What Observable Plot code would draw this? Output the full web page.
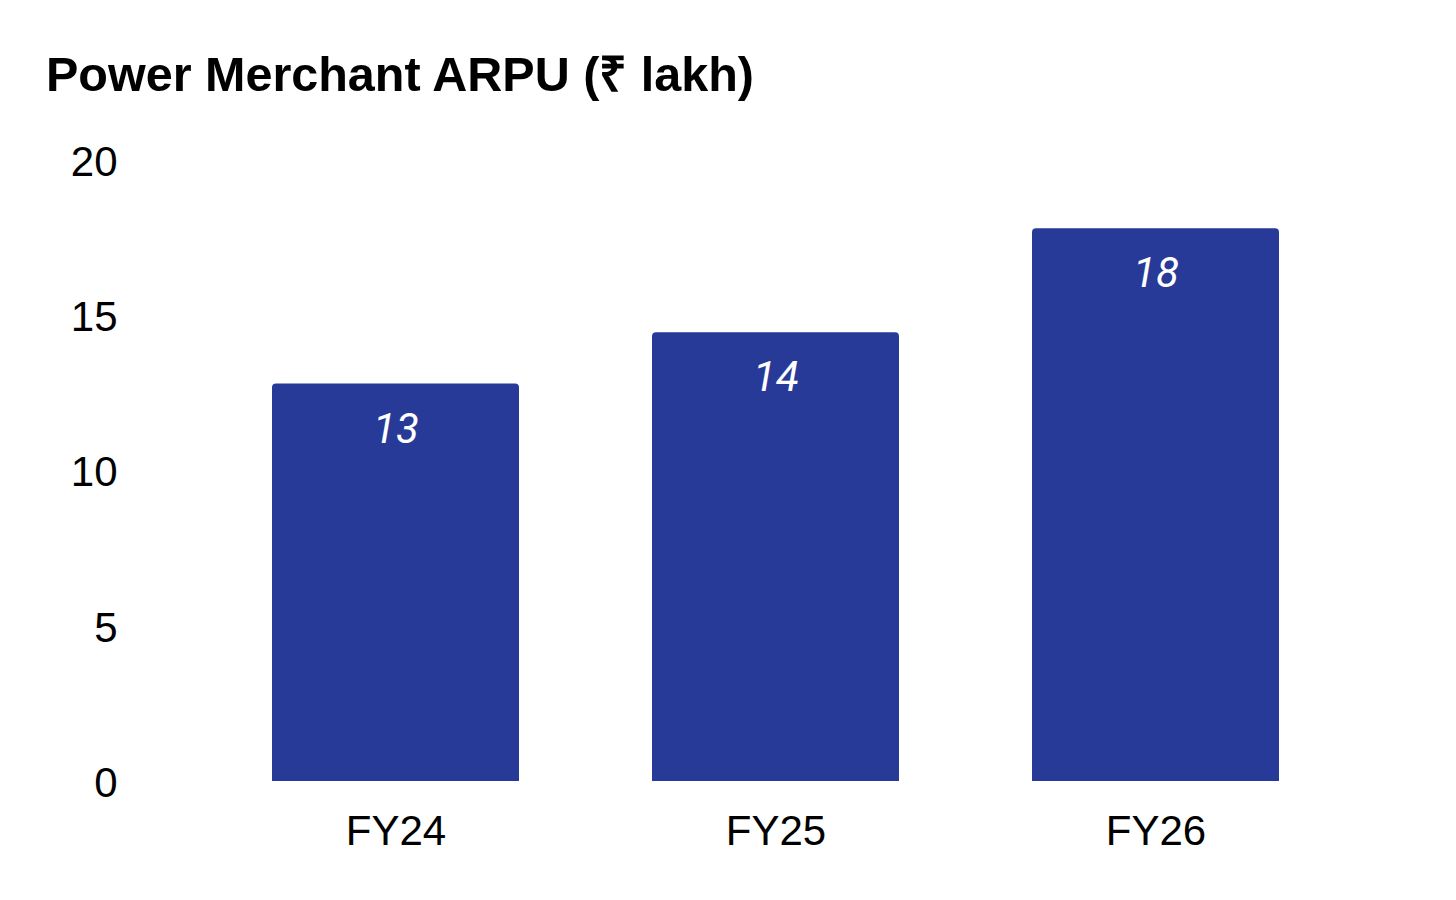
<!DOCTYPE html>
<html>
<head>
<meta charset="utf-8">
<script src="https://cdn.jsdelivr.net/npm/d3@7"></script>
<script src="https://cdn.jsdelivr.net/npm/@observablehq/plot@0.6"></script>
<style>
  html, body { margin: 0; padding: 0; background: #ffffff; }
  #title {
    margin: 51px 0 0 46px;
    height: 47px;
    font-family: "Liberation Sans", Arial, sans-serif;
    font-weight: bold;
    font-size: 48.5px;
    line-height: 47px;
    color: #000000;
    white-space: nowrap;
  }
</style>
</head>
<body>
<div id="title">Power Merchant ARPU (₹ lakh)</div>
<div id="chart"></div>
<script>
const years = ["FY24", "FY25", "FY26"];
const arpu = [12.8, 14.45, 17.8];
const yTicks = [0, 5, 10, 15, 20];

const data = years.map((year, i) => ({year, value: arpu[i]}));

const chart = Plot.plot({
  width: 1456,
  height: 783,
  marginTop: 62,
  marginBottom: 100,
  marginLeft: 139,
  marginRight: 44,
  style: {fontFamily: "'Liberation Sans', Arial, sans-serif", fontSize: "42px", color: "#000", background: "#fff"},
  x: {domain: years, padding: 0.35, label: null},
  y: {domain: [0, 20], label: null},
  marks: [
    Plot.axisY({ticks: yTicks, tickSize: 0, tickPadding: 22, label: null, fontSize: 42, dy: 2}),
    Plot.axisX({tickSize: 0, tickPadding: 34, label: null, fontSize: 42}),
    Plot.barY(data, {x: "year", y: "value", fill: "#283a97", ry1: 4}),
    Plot.text(data, {
      x: "year", y: "value",
      text: d => String(Math.round(d.value)),
      fill: "#ffffff",
      fontFamily: "Roboto, sans-serif",
      fontStyle: "italic",
      fontSize: 42,
      lineAnchor: "middle",
      dy: 45
    })
  ]
});
document.getElementById("chart").appendChild(chart);
</script>
</body>
</html>
